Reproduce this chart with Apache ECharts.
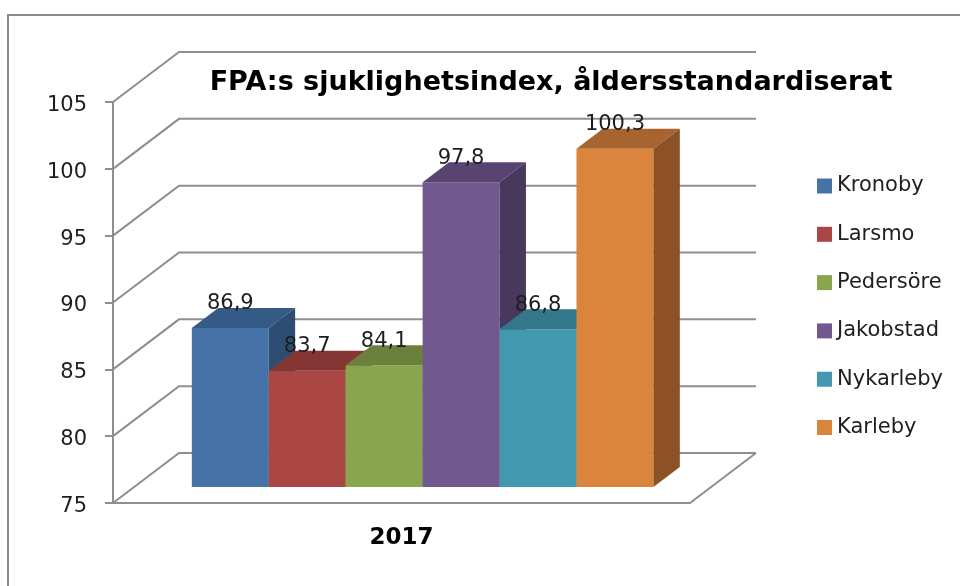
<!DOCTYPE html>
<html><head><meta charset="utf-8">
<script src="https://cdn.jsdelivr.net/npm/echarts@6/dist/echarts.min.js"></script>
<style>html,body{margin:0;padding:0;background:#fff}#c{width:960px;height:586px}</style>
</head><body><div id="c"></div>
<script>
// ---- data ----
const titleText = 'FPA:s sjuklighetsindex, åldersstandardiserat';
const categories = ['2017'];
const cities = ['Kronoby', 'Larsmo', 'Pedersöre', 'Jakobstad', 'Nykarleby', 'Karleby'];
const values = [86.9, 83.7, 84.1, 97.8, 86.8, 100.3];
const yTicks = [75, 80, 85, 90, 95, 100, 105];

// ---- styles ----
const frontColors = ['#4572A7', '#AA4643', '#89A54E', '#71588F', '#4198AF', '#DB843D'];
const topColors   = ['#355A86', '#853533', '#6A803B', '#574471', '#32788A', '#A8642E'];
const sideColors  = ['#2E4D73', '#6F2B29', '#59692F', '#48385E', '#2A6573', '#8C5226'];
const FONT = 'DejaVu Sans';
const TEXT = '#1e1e1e';
const LINE = '#8e8e8e';
const DX = 66, DY = -50;          // depth of the 3D box (px)
const BAR_FRONT = 0.32, BAR_DEPTH = 0.40;
const GROUP_FRACTION = 0.8;

const chart = echarts.init(document.getElementById('c'), null, {renderer: 'canvas'});

const gridSeries = {
  type: 'custom',
  name: 'grid3d',
  silent: true,
  z: 1,
  coordinateSystem: 'cartesian2d',
  data: yTicks.map(v => [0, v]),
  renderItem: function (params, api) {
    const cs = params.coordSys;
    const v = api.value(1);
    const y = api.coord([0, v])[1];
    const xl = cs.x, xr = cs.x + cs.width;
    const style = {stroke: LINE, lineWidth: 2, fill: null};
    const children = [{
      type: 'polyline',
      shape: {points: [[xl, y], [xl + DX, y + DY], [xr + DX, y + DY]]},
      style: style
    }];
    if (v === yTicks[0]) {
      children.push({type: 'line', shape: {x1: xr, y1: y, x2: xr + DX, y2: y + DY}, style: style});
    }
    return {type: 'group', children: children};
  }
};

function barSeries(i) {
  return {
    type: 'custom',
    name: cities[i],
    z: 2,
    coordinateSystem: 'cartesian2d',
    itemStyle: {color: frontColors[i]},
    encode: {x: 0, y: 1},
    data: [[0, values[i]]],
    renderItem: function (params, api) {
      const base = api.coord([api.value(0), yTicks[0]]);
      const top = api.coord([api.value(0), api.value(1)]);
      const band = api.size([1, 0])[0];
      const groupW = band * GROUP_FRACTION;
      const bw = groupW / cities.length;
      const fx = DX * BAR_FRONT, fy = DY * BAR_FRONT;
      const dx = DX * BAR_DEPTH, dy = DY * BAR_DEPTH;
      const x0 = base[0] - groupW / 2 + i * bw + fx;
      const x1 = x0 + bw;
      const yb = base[1] + fy;
      const yt = top[1] + fy;
      const label = String(api.value(1)).replace('.', ',');
      return {
        type: 'group',
        children: [
          {type: 'rect', shape: {x: x0, y: yt, width: bw, height: yb - yt}, style: {fill: frontColors[i]}},
          {type: 'polygon', shape: {points: [[x0, yt], [x1, yt], [x1 + dx, yt + dy], [x0 + dx, yt + dy]]}, style: {fill: topColors[i]}},
          {type: 'polygon', shape: {points: [[x1, yt], [x1 + dx, yt + dy], [x1 + dx, yb + dy], [x1, yb]]}, style: {fill: sideColors[i]}},
          {type: 'text', z2: 10, x: (x0 + x1) / 2, y: yt + dy - 4,
           style: {text: label, fill: TEXT, font: '21px "' + FONT + '"', textAlign: 'center', textVerticalAlign: 'middle'}}
        ]
      };
    }
  };
}

const series = [gridSeries].concat(cities.map((c, i) => barSeries(i)));

chart.setOption({
  animation: false,
  backgroundColor: '#fff',
  title: {
    text: titleText,
    left: 546, top: 64, textAlign: 'center',
    textStyle: {fontFamily: FONT, fontWeight: 'bold', fontSize: 27, color: '#000'}
  },
  legend: {
    data: cities,
    orient: 'vertical',
    left: 812, top: 170,
    itemWidth: 15, itemHeight: 15, itemGap: 26.3,
    icon: 'rect',
    selectedMode: false,
    textStyle: {fontFamily: FONT, fontSize: 21, color: TEXT, lineHeight: 22}
  },
  grid: {left: 113, right: 270, top: 102, bottom: 83, containLabel: false},
  xAxis: {
    type: 'category',
    data: categories,
    axisLine: {show: true, lineStyle: {color: LINE, width: 2}},
    axisTick: {show: false},
    axisLabel: {margin: 24, fontFamily: FONT, fontWeight: 'bold', fontSize: 23, color: '#000'},
    splitLine: {show: false}
  },
  yAxis: {
    type: 'value',
    min: yTicks[0], max: yTicks[yTicks.length - 1], interval: 5,
    axisLine: {show: true, lineStyle: {color: LINE, width: 2}},
    axisTick: {show: true, length: 8, lineStyle: {color: LINE, width: 2}},
    axisLabel: {
      margin: 26, color: TEXT,
      formatter: '{t|{value}}',
      rich: {t: {fontFamily: FONT, fontSize: 21, color: TEXT, padding: [7, 0, 0, 0]}}
    },
    splitLine: {show: false}
  },
  graphic: [{
    type: 'rect', silent: true, z: 0,
    shape: {x: 8, y: 15, width: 1000, height: 700},
    style: {fill: null, stroke: '#8a8a8a', lineWidth: 2}
  }],
  series: series
});
</script>
</body></html>
